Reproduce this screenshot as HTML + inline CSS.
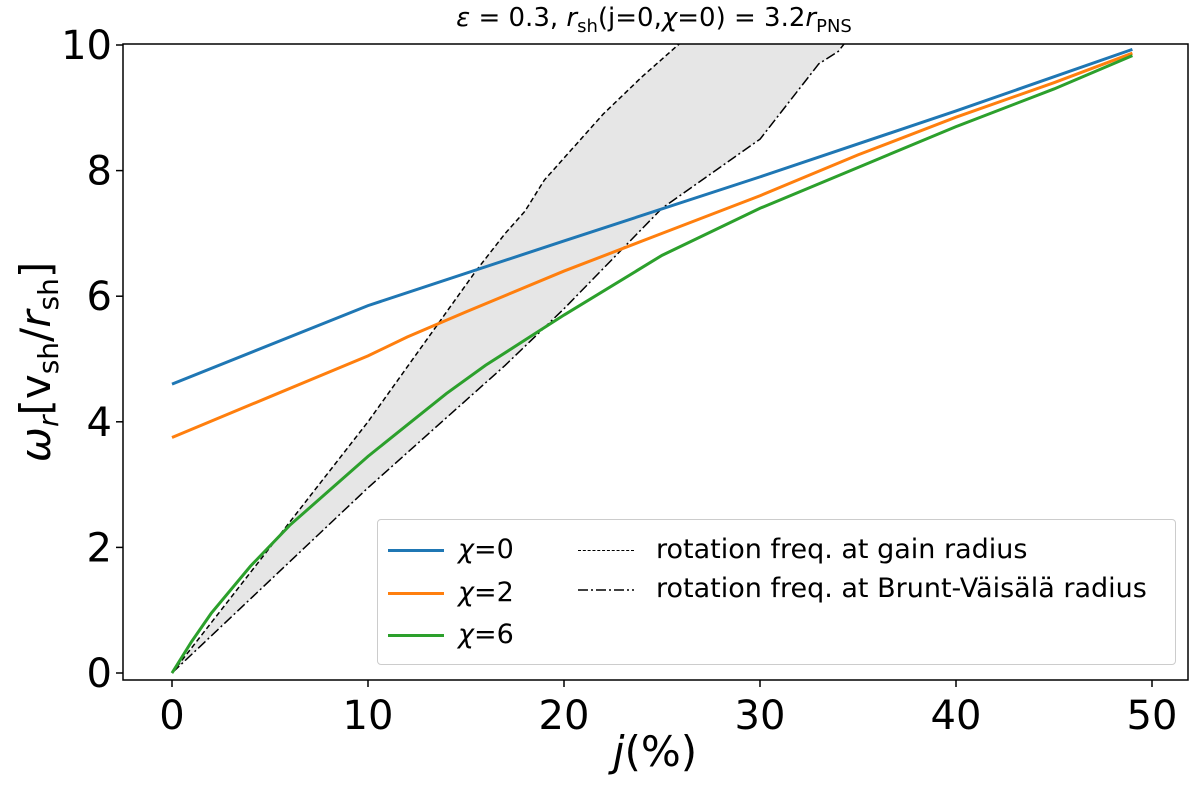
<!DOCTYPE html>
<html><head><meta charset="utf-8"><style>
body{margin:0;background:#fff;}
svg text{font-family:"DejaVu Sans","Liberation Sans",sans-serif;}
</style></head><body>
<svg id="chart" width="1200" height="785" xmlns="http://www.w3.org/2000/svg"></svg>
<script>
const xTicks=[0,10,20,30,40,50];
const yTicks=[0,2,4,6,8,10];
const blueX=[0,10,20,30,40,49];
const blueY=[4.6,5.85,6.88,7.9,8.95,9.93];
const orangeX=[0,5,10,12,15,20,25,30,35,40,45,49];
const orangeY=[3.75,4.4,5.05,5.35,5.75,6.4,7.0,7.6,8.25,8.85,9.4,9.87];
const greenX=[0,1,2,4,6,8,10,12,14,16,18,20,25,30,35,40,45,49];
const greenY=[0,0.5,0.95,1.7,2.35,2.9,3.45,3.95,4.45,4.9,5.3,5.7,6.65,7.4,8.05,8.7,9.3,9.83];
const gainX=[0,5,10,15.5,17,18,19,20,22,24,26];
const gainY=[0,2.0,4.0,6.4,7.0,7.35,7.85,8.2,8.9,9.5,10.05];
const bvX=[0,10,17,18,20,25,30,33,34,35];
const bvY=[0,2.95,4.9,5.2,5.8,7.4,8.5,9.7,9.9,10.3];

const L=123,R=1188,T=44,B=680;
const sx=v=>172+v*19.6;
const sy=v=>673-v*62.8;
const NS="http://www.w3.org/2000/svg";
const svg=document.getElementById('chart');
function mk(tag,attrs,parent){const e=document.createElementNS(NS,tag);for(const k in attrs)e.setAttribute(k,attrs[k]);(parent||svg).appendChild(e);return e;}
const defs=mk('defs',{});
const cp=mk('clipPath',{id:'clip'},defs);mk('rect',{x:L,y:T,width:R-L,height:B-T},cp);
const g=mk('g',{'clip-path':'url(#clip)'});
let fp='';
gainX.forEach((x,i)=>{fp+=(i?'L':'M')+sx(x)+','+sy(gainY[i]);});
for(let i=bvX.length-1;i>=0;i--)fp+='L'+sx(bvX[i])+','+sy(bvY[i]);
const fill=mk('path',{d:fp+'Z',fill:'#e6e6e6',stroke:'none'},g);


function line(xs,ys,color,w,dash,name){
  let d='';xs.forEach((x,i)=>{d+=(i?'L':'M')+sx(x)+','+sy(ys[i]);});
  const p=mk('path',{d:d,fill:'none',stroke:color,'stroke-width':w},g);
  if(dash)p.setAttribute('stroke-dasharray',dash);
  
  
}
line(gainX,gainY,'#000',1.5,'5,3','gain-radius-line');
line(bvX,bvY,'#000',1.5,'10,3,2,3','brunt-vaisala-line');
line(blueX,blueY,'#1f77b4',3,null,'chi0-line');
line(orangeX,orangeY,'#ff7f0e',3,null,'chi2-line');
line(greenX,greenY,'#2ca02c',3,null,'chi6-line');
mk('rect',{x:L,y:T,width:R-L,height:B-T,fill:'none',stroke:'#000','stroke-width':1.5});
xTicks.forEach(v=>{
  mk('line',{x1:sx(v),x2:sx(v),y1:B,y2:B+7,stroke:'#000','stroke-width':1.5});
  const t=mk('text',{x:sx(v),y:B+49,'font-size':40,'text-anchor':'middle'});t.textContent=v;
  
  
});
yTicks.forEach(v=>{
  mk('line',{x1:L-7,x2:L,y1:sy(v),y2:sy(v),stroke:'#000','stroke-width':1.5});
  const t=mk('text',{x:L-11,y:sy(v)+14,'font-size':40,'text-anchor':'end'});t.textContent=v;
  
  
});
</script>
<svg width="1200" height="785" style="position:absolute;left:0;top:0" xmlns="http://www.w3.org/2000/svg">
  <text transform="translate(50,362) rotate(-90)" text-anchor="middle" font-size="42" font-family="DejaVu Sans, sans-serif"><tspan font-style="italic">ω</tspan><tspan font-style="italic" font-size="28" dy="8">r</tspan><tspan dy="-8">[v</tspan><tspan font-size="28" dy="8">sh</tspan><tspan dy="-8">/</tspan><tspan font-style="italic">r</tspan><tspan font-size="28" dy="8">sh</tspan><tspan dy="-8">]</tspan></text>
</svg>
<div style="position:absolute;left:0;top:0;width:1200px;height:785px;font-family:'DejaVu Sans','Liberation Sans',sans-serif;pointer-events:none">
  <div style="position:absolute;left:0;width:1200px;top:3px;text-align:center;font-size:26px;padding-left:108px;box-sizing:border-box"><i>ε</i> = 0.3, <i>r</i><sub style="font-size:18px">sh</sub>(j=0,<i>χ</i>=0) = 3.2<i>r</i><sub style="font-size:18px">PNS</sub></div>
  <div style="position:absolute;left:0;width:1200px;padding-left:110px;box-sizing:border-box;text-align:center;top:727px;font-size:42px"><i>j</i>(%)</div>
  <div style="position:absolute;left:377px;top:519px;width:797px;height:144px;border:1px solid #ccc;border-radius:4px;background:rgba(255,255,255,0.85);font-size:27px">
    <div style="position:absolute;left:10px;top:14px"><span style="display:inline-block;width:56px;border-top:3px solid #1f77b4;vertical-align:middle;margin-right:14px"></span><i>χ</i>=0</div>
    <div style="position:absolute;left:10px;top:57px"><span style="display:inline-block;width:56px;border-top:3px solid #ff7f0e;vertical-align:middle;margin-right:14px"></span><i>χ</i>=2</div>
    <div style="position:absolute;left:10px;top:99px"><span style="display:inline-block;width:56px;border-top:3px solid #2ca02c;vertical-align:middle;margin-right:14px"></span><i>χ</i>=6</div>
    <div style="position:absolute;left:200px;top:14px;white-space:nowrap"><span style="display:inline-block;width:56px;border-top:1.5px dashed #000;vertical-align:middle;margin-right:22px"></span>rotation freq. at gain radius</div>
    <div style="position:absolute;left:200px;top:53px;white-space:nowrap"><svg width="56" height="6" style="vertical-align:middle;margin-right:22px"><line x1="0" y1="3" x2="56" y2="3" stroke="#000" stroke-width="1.5" stroke-dasharray="10,3,2,3"/></svg>rotation freq. at Brunt-Väisälä radius</div>
  </div>
</div>
</body></html>
